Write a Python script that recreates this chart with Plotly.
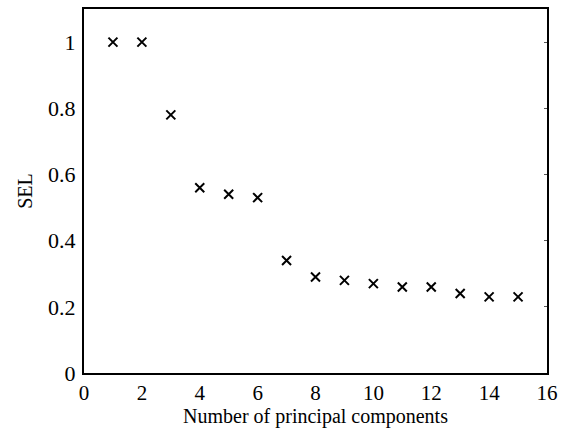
import plotly.graph_objects as go

components = list(range(1, 16))
sel = [1.0, 1.0, 0.78, 0.56, 0.54, 0.53, 0.34, 0.29, 0.28, 0.27, 0.26, 0.26, 0.24, 0.23, 0.23]
x_ticks = [0, 2, 4, 6, 8, 10, 12, 14, 16]
y_ticks = [0, 0.2, 0.4, 0.6, 0.8, 1]
y_labels = ["0", "0.2", "0.4", "0.6", "0.8", "1"]

font = dict(family="Liberation Serif, Times New Roman, serif", color="black")

fig = go.Figure()
fig.add_trace(go.Scatter(
    x=components, y=sel, mode="markers",
    marker=dict(symbol="x-thin", size=9, line=dict(width=2, color="black"), color="black"),
    showlegend=False,
))
# invisible trace on secondary axis to show right-side ticks
fig.add_trace(go.Scatter(x=[None], y=[None], yaxis="y2", showlegend=False, hoverinfo="skip"))

fig.update_layout(
    width=567, height=433,
    margin=dict(l=84, r=20, t=7, b=60),
    plot_bgcolor="white", paper_bgcolor="white",
    font=dict(size=22, **font),
    xaxis=dict(
        range=[0, 16], tickvals=x_ticks, ticktext=[str(v) for v in x_ticks],
        showgrid=False, zeroline=False, showline=True, linecolor="black", linewidth=2,
        mirror=True, ticks="", tickfont=dict(size=21, **font),
        title=dict(text="Number of principal components", font=dict(size=20, **font), standoff=0),
    ),
    yaxis=dict(
        range=[0, 1.1], tickvals=y_ticks, ticktext=y_labels,
        showgrid=False, zeroline=False, showline=True, linecolor="black", linewidth=2,
        mirror=True, ticks="", tickfont=dict(size=22, **font), ticklabelstandoff=2,
        title=dict(text="SEL", font=dict(size=20, **font), standoff=10),
    ),
    yaxis2=dict(
        range=[0, 1.1], overlaying="y", side="right", tickvals=y_ticks,
        ticks="inside", ticklen=3, tickcolor="#555", showticklabels=False,
        showgrid=False, zeroline=False, showline=False,
    ),
)

fig.write_html("out.html")
